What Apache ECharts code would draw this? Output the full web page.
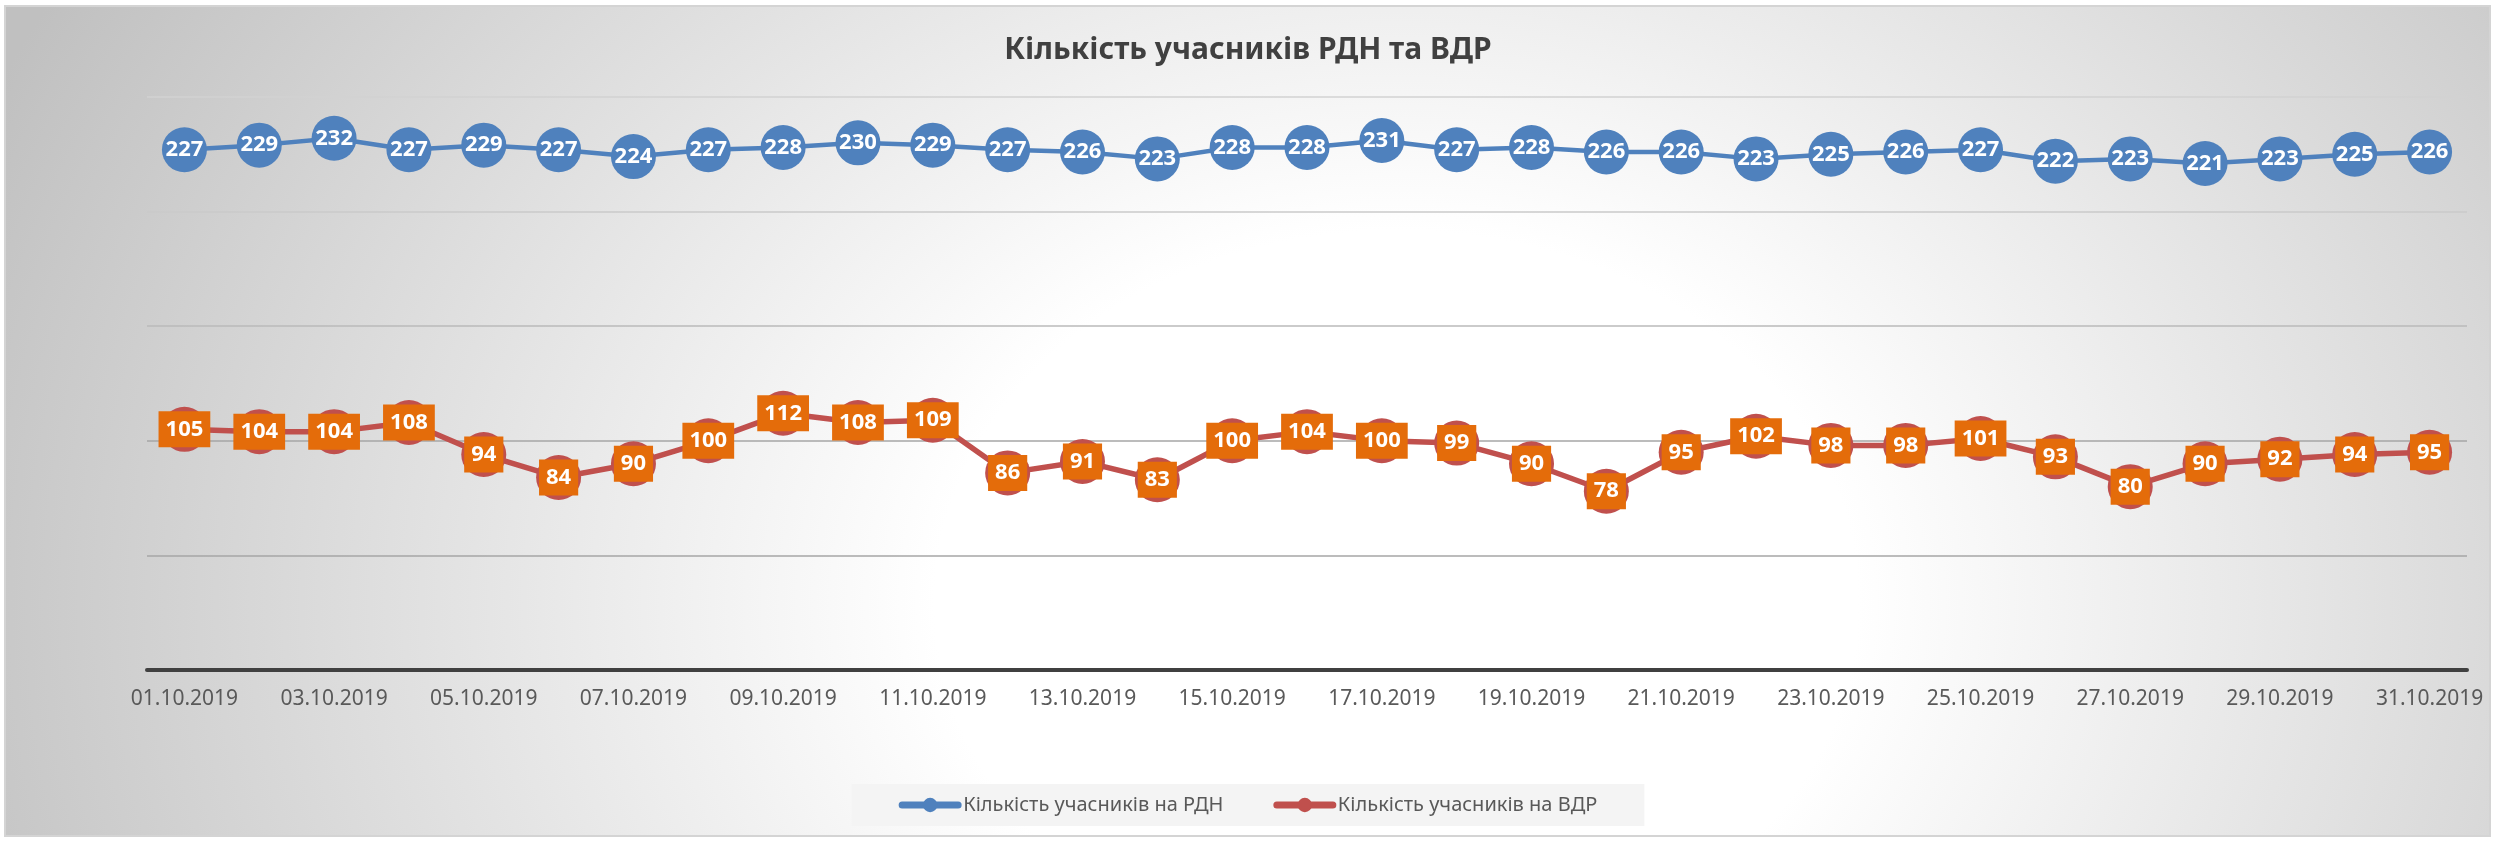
<!DOCTYPE html>
<html>
<head>
<meta charset="utf-8">
<script src="https://cdn.jsdelivr.net/npm/echarts@6/dist/echarts.min.js"></script>
<style>
    html, body {margin: 0; padding: 0; background: #fff;}
    #frame {
        position: absolute; left: 4px; top: 5px; width: 2487px; height: 832px;
        box-sizing: border-box; border: 2px solid #d4d4d4;
        background: radial-gradient(ellipse 62% 150% at 56% 72%, #ffffff 30%, #c0c0c0 100%);
    }
    #chartmain {position: absolute; left: 0; top: 0; width: 2496px; height: 842px;}
</style>
</head>
<body>
<div id="frame"></div>
<div id="chartmain"></div>
<script>
// дані
var days = ['01.10.2019', '02.10.2019', '03.10.2019', '04.10.2019', '05.10.2019', '06.10.2019', '07.10.2019',
    '08.10.2019', '09.10.2019', '10.10.2019', '11.10.2019', '12.10.2019', '13.10.2019', '14.10.2019',
    '15.10.2019', '16.10.2019', '17.10.2019', '18.10.2019', '19.10.2019', '20.10.2019', '21.10.2019',
    '22.10.2019', '23.10.2019', '24.10.2019', '25.10.2019', '26.10.2019', '27.10.2019', '28.10.2019',
    '29.10.2019', '30.10.2019', '31.10.2019']
var rdn = [227, 229, 232, 227, 229, 227, 224, 227, 228, 230, 229, 227, 226, 223, 228, 228, 231, 227, 228, 226,
    226, 223, 225, 226, 227, 222, 223, 221, 223, 225, 226]
var vdr = [105, 104, 104, 108, 94, 84, 90, 100, 112, 108, 109, 86, 91, 83, 100, 104, 100, 99, 90, 78,
    95, 102, 98, 98, 101, 93, 80, 90, 92, 94, 95]
var seriesNames = ['Кількість учасників на РДН', 'Кількість учасників на ВДР']

var font = 'Noto Sans'
var myChart = echarts.init(document.getElementById('chartmain'))
myChart.setOption({
    backgroundColor: 'transparent',
    animation: false,
    title: {
        text: 'Кількість учасників РДН та ВДР',
        left: 'center',
        top: 30,
        textStyle: {fontFamily: font, fontSize: 30, fontWeight: 'bold', color: '#404040'}
    },
    legend: {
        data: seriesNames,
        top: 784,
        left: 'center',
        backgroundColor: '#f4f4f4',
        padding: [11, 47],
        itemGap: 50,
        itemWidth: 56,
        itemHeight: 18,
        lineStyle: {width: 7, cap: 'round'},
        textStyle: {fontFamily: font, fontSize: 20, color: '#595959'}
    },
    grid: {left: 147, right: 29, top: 97, bottom: 172},
    xAxis: {
        type: 'category',
        data: days,
        axisTick: {show: false},
        axisLine: {lineStyle: {color: '#404040', width: 4}},
        axisLabel: {interval: 1, margin: 19, fontFamily: font, fontSize: 21, color: '#595959'}
    },
    yAxis: {
        type: 'value',
        min: 0,
        max: 250,
        interval: 50,
        axisLabel: {show: false},
        axisLine: {show: false},
        axisTick: {show: false},
        splitLine: {lineStyle: {color: ['#a6a6a6', '#a6a6a6', '#a6a6a6', '#bababa', '#cacaca', '#d2d2d2'], width: 1.5}}
    },
    series: [{
        name: seriesNames[0],
        type: 'line',
        data: rdn,
        symbol: 'circle',
        symbolSize: 45,
        itemStyle: {color: '#4f81bd'},
        lineStyle: {color: '#4f81bd', width: 4.5},
        label: {
            show: true, position: 'inside',
            fontFamily: font, fontSize: 22, fontWeight: 'bold', color: '#fff'
        }
    }, {
        name: seriesNames[1],
        type: 'line',
        data: vdr,
        symbol: 'circle',
        symbolSize: 45,
        itemStyle: {color: '#c0504d'},
        lineStyle: {color: '#c0504d', width: 5.5},
        label: {
            show: true, position: 'inside',
            fontFamily: font, fontSize: 22, fontWeight: 'bold', color: '#fff',
            backgroundColor: '#e46c0a', padding: [7, 7, 7, 7]
        }
    }]
});
</script>
</body>
</html>
